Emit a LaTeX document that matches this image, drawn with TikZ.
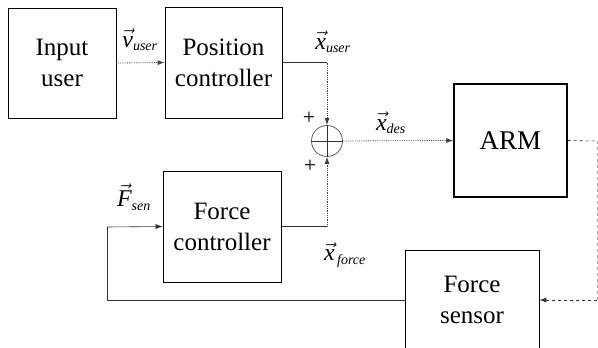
\documentclass[tikz,border=0pt]{standalone}
\usepackage{amsmath}
\usepackage{fontspec}
\setmainfont{Liberation Serif}[Ligatures=TeX]
\usetikzlibrary{arrows.meta}

\tikzset{
  blok/.style={draw, line width=0.7pt, align=center, inner sep=0pt,
    font=\rmfamily\fontsize{25}{31}\selectfont},
  sig/.style={line width=0.8pt, black!75, densely dotted},
  wire/.style={line width=0.6pt, black!80},
  tip/.style={-{Latex[length=7pt,width=5pt]}},
  lab/.style={inner sep=0pt, font=\rmfamily\fontsize{24}{24}\selectfont}
}
\newcommand{\vlab}[2]{$\vec{\mbox{\rmfamily\itshape #1}}_{\mbox{\rmfamily\fontsize{14}{14}\selectfont\itshape #2}}$}

\begin{document}
\begin{tikzpicture}[x=1pt,y=-1pt]
    \useasboundingbox (0,0) rectangle (598,348);
    \clip (0,0) rectangle (598,348);

    % blocks
    \node [blok, minimum width=108pt, minimum height=110pt] (inp) at (62,63) {Input\\user};
    \node [blok, minimum width=117pt, minimum height=111pt] (posc) at (223.5,62.5) {Position\\controller};
    \node [blok, minimum width=118pt, minimum height=111pt] (forc) at (222,226.5) {Force\\controller};
    \node [blok, line width=1.4pt, minimum width=113pt, minimum height=113pt,
           font=\rmfamily\fontsize{27}{31}\selectfont] (arm) at (510.5,140.5) {ARM};
    \node [blok, minimum width=134pt, minimum height=100pt] (sens) at (472,300) {Force\\sensor};

    % summing point
    \node [draw, circle, line width=0.7pt, black!70, minimum size=31pt, inner sep=0pt] (sum) at (327,141) {};
    \draw [line width=0.7pt, black!80] (sum.west) -- (sum.east);
    \draw [line width=0.7pt, black!80] (sum.north) -- (sum.south);
    \node [lab, font=\rmfamily\fontsize{22}{22}\selectfont] (pa) at (309,118) {+};
    \node [lab, font=\rmfamily\fontsize{22}{22}\selectfont] (pb) at (310,166) {+};

    % corners
    \coordinate (c1) at (posc.east -| sum.north);
    \coordinate (c2) at (forc.east -| sum.south);
    \coordinate (c3) at (597,141);
    \coordinate (c4) at (597,300);
    \coordinate (c5) at (107,300);
    \coordinate (c6) at (107,227);

    % signals
    \draw [sig, tip] (inp.east) -- (posc.west);
    \draw [wire] (posc.east) -- (c1);
    \draw [sig, tip] (c1) -- (sum.north);
    \draw [wire] (forc.east) -- (c2);
    \draw [sig, tip] (c2) -- (sum.south);
    \draw [sig, tip] (sum.east) -- (arm.west);
    \draw [wire, dashed] (arm.east) -- (c3);
    \draw [line width=0.6pt, black!35, dashed] (c3) -- (c4);
    \draw [wire, dashed, tip] (c4) -- (sens.east);
    \draw [wire] (sens.west) -- (c5) -- (c6);
    \draw [wire, tip] (c6) -- (forc.west);

    % labels
    \node [lab] (lv) at (140,40) {\vlab{v}{user}};
    \node [lab] (lxu) at (333,42) {\vlab{x}{user}};
    \node [lab] (lxd) at (391,123) {\vlab{x}{des}};
    \node [lab] (lxf) at (345,255) {\vlab{x}{\,force}};
    \node [lab] (lf) at (134,197) {\vlab{F}{sen}};
\end{tikzpicture}
\end{document}
